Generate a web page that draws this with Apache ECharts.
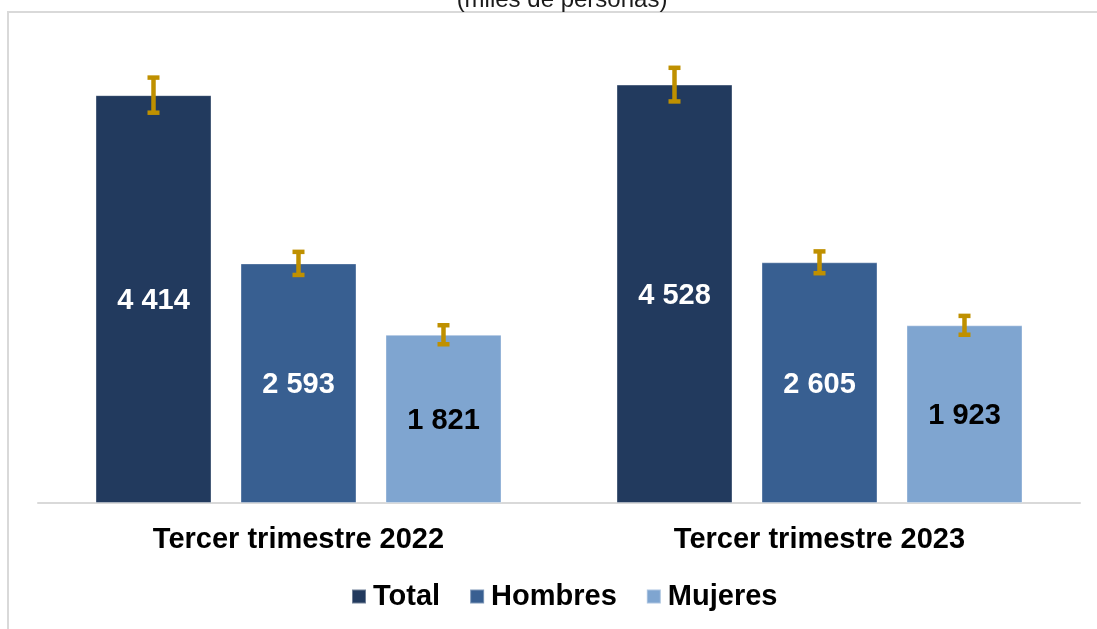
<!DOCTYPE html>
<html>
<head>
<meta charset="utf-8">
<script src="https://cdn.jsdelivr.net/npm/echarts@6/dist/echarts.min.js"></script>
<style>
  html, body { margin: 0; padding: 0; background: #ffffff; }
  #chart { width: 1097px; height: 629px; }
</style>
</head>
<body>
<div id="chart"></div>
<script>
const categories = ['Tercer trimestre 2022', 'Tercer trimestre 2023'];
const seriesNames = ['Total', 'Hombres', 'Mujeres'];
const totalValues = [4414, 4528];
const hombresValues = [2593, 2605];
const mujeresValues = [1821, 1923];
const totalErrors = [190, 182];
const hombresErrors = [125, 118];
const mujeresErrors = [103, 102];
const titleText = '(miles de personas)';

const FONT = '"Liberation Sans", Arial, sans-serif';
const BAR_W = 116;
const BAR_GAP = 29;
const colors = ['#223A5E', '#385F91', '#7FA5D0'];
const labelColors = ['#ffffff', '#ffffff', '#000000'];
const ERR_COLOR = '#BF9000';

const valueSets = [totalValues, hombresValues, mujeresValues];
const errorSets = [totalErrors, hombresErrors, mujeresErrors];

function fmt(v) {
  return String(v).replace(/\B(?=(\d{3})+(?!\d))/g, ' ');
}

const errorData = [];
valueSets.forEach((vals, s) => {
  vals.forEach((v, c) => {
    errorData.push([c, s, v, errorSets[s][c]]);
  });
});

const barSeries = seriesNames.map((name, i) => ({
  name: name,
  type: 'bar',
  data: valueSets[i],
  barWidth: BAR_W,
  barGap: (BAR_GAP / BAR_W * 100) + '%',
  itemStyle: { color: colors[i], borderColor: 'rgba(255,255,255,0.35)', borderWidth: 1 },
  label: {
    show: true,
    position: 'inside',
    offset: [0, 2],
    formatter: p => fmt(p.value),
    color: labelColors[i],
    fontFamily: FONT,
    fontWeight: 'bold',
    fontSize: 29
  },
  emphasis: { disabled: true },
  animation: false
}));

const chart = echarts.init(document.getElementById('chart'), null, { renderer: 'canvas' });

chart.setOption({
  backgroundColor: '#ffffff',
  animation: false,
  graphic: [
    {
      type: 'rect',
      shape: { x: 8, y: 12, width: 1300, height: 800 },
      style: { fill: 'none', stroke: '#d9d9d9', lineWidth: 2 },
      z: -1
    },
    {
      type: 'text',
      x: 562,
      y: 0,
      style: {
        text: titleText,
        font: '24px ' + FONT,
        fill: '#1a1a1a',
        align: 'center',
        verticalAlign: 'middle'
      }
    }
  ],
  legend: {
    data: seriesNames,
    left: 351,
    top: 582,
    padding: 0,
    icon: 'rect',
    itemWidth: 14,
    itemHeight: 14,
    itemGap: 29,
    textStyle: { fontFamily: FONT, fontWeight: 'bold', fontSize: 29, color: '#000000', padding: [0, 0, 0, 2] }
  },
  grid: { left: 38, right: 17, top: 41, bottom: 126, containLabel: false },
  xAxis: {
    type: 'category',
    data: categories,
    axisLine: { show: true, lineStyle: { color: '#d9d9d9', width: 2 } },
    axisTick: { show: false },
    axisLabel: { fontFamily: FONT, fontWeight: 'bold', fontSize: 29, color: '#000000', margin: 22 }
  },
  yAxis: {
    type: 'value',
    min: 0,
    max: 5000,
    show: false,
    splitLine: { show: false }
  },
  series: barSeries.concat([{
    type: 'custom',
    name: 'error',
    data: errorData,
    encode: { x: 0, y: 2 },
    z: 10,
    silent: true,
    renderItem: function (params, api) {
      const cat = api.value(0);
      const s = api.value(1);
      const val = api.value(2);
      const err = api.value(3);
      const c = api.coord([cat, val]);
      const x = c[0] + (s - 1) * (BAR_W + BAR_GAP);
      const yTop = api.coord([cat, val + err])[1];
      const yBot = api.coord([cat, val - err])[1];
      const st = { stroke: ERR_COLOR, lineWidth: 4.5 };
      return {
        type: 'group',
        children: [
          { type: 'line', shape: { x1: x, y1: yTop, x2: x, y2: yBot }, style: st },
          { type: 'line', shape: { x1: x - 6, y1: yTop, x2: x + 6, y2: yTop }, style: st },
          { type: 'line', shape: { x1: x - 6, y1: yBot, x2: x + 6, y2: yBot }, style: st }
        ]
      };
    }
  }])
});
</script>
</body>
</html>
